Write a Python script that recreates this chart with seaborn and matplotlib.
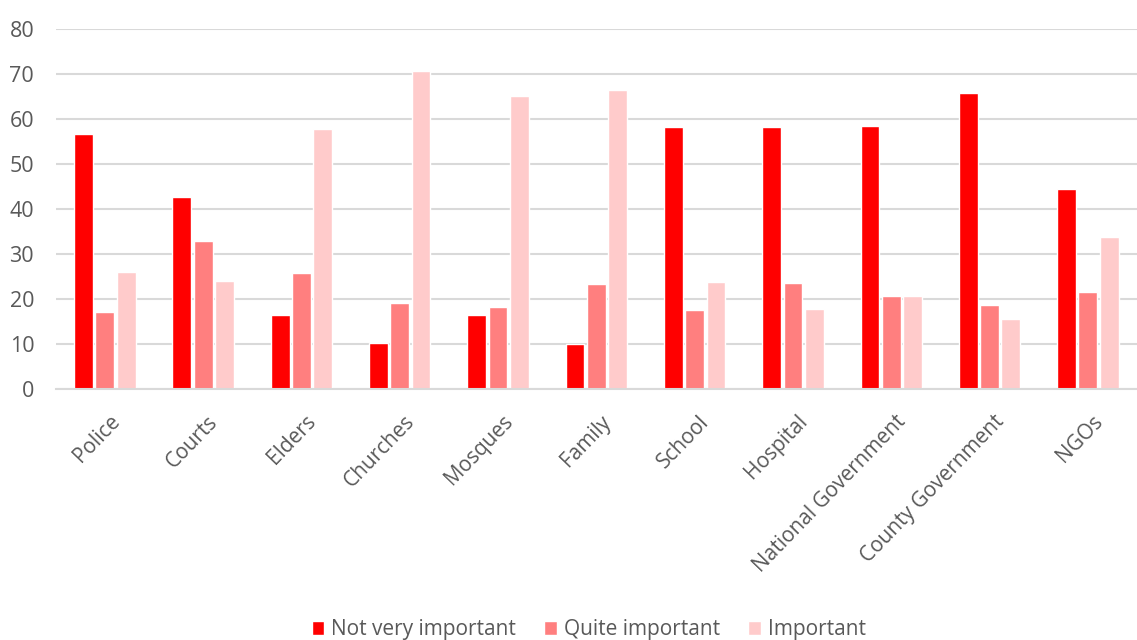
import matplotlib
matplotlib.use("Agg")
import matplotlib.pyplot as plt
import matplotlib.transforms as mtransforms
import seaborn as sns
import pandas as pd

categories = ["Police", "Courts", "Elders", "Churches", "Mosques", "Family", "School",
              "Hospital", "National Government", "County Government", "NGOs"]
not_very_important = [56.7, 42.8, 16.5, 10.2, 16.5, 10.0, 58.3, 58.3, 58.4, 65.7, 44.5]
quite_important = [17.1, 32.9, 25.7, 19.1, 18.2, 23.3, 17.5, 23.6, 20.7, 18.6, 21.5]
important = [26.0, 24.0, 57.8, 70.6, 65.1, 66.5, 23.8, 17.8, 20.7, 15.5, 33.7]
series_names = ["Not very important", "Quite important", "Important"]
colors = ["#FF0000", "#FF7F7F", "#FFCBCB"]

rows = []
for name, vals in zip(series_names, [not_very_important, quite_important, important]):
    for c, v in zip(categories, vals):
        rows.append({"category": c, "series": name, "value": v})
df = pd.DataFrame(rows)

sns.set_style("white")
plt.rcParams["font.family"] = ["Open Sans", "DejaVu Sans"]

fig = plt.figure(figsize=(11.37, 6.4), dpi=100)
ax = fig.add_axes([0.049, 0.392, 0.951, 0.5625])

sns.barplot(data=df, x="category", y="value", hue="series", order=categories,
            hue_order=series_names, palette=colors, width=0.65, gap=0.12,
            saturation=1, ax=ax, legend=True)

ax.set_ylim(0, 80)
ax.set_xlim(-0.5, 10.5)
ax.set_yticks(range(0, 81, 10))
ax.yaxis.grid(True, color="#D9D9D9", linewidth=1.5)
ax.set_axisbelow(True)
for s in ["left", "right", "top"]:
    ax.spines[s].set_visible(False)
ax.spines["bottom"].set_color("#D9D9D9")
ax.spines["bottom"].set_linewidth(1.5)
ax.set_xlabel("")
ax.set_ylabel("")
ax.tick_params(axis="y", length=0, labelsize=15.5, labelcolor="#595959", pad=15.5)
ax.tick_params(axis="x", length=0, labelsize=15, labelcolor="#595959", pad=0)
offset = mtransforms.ScaledTranslation(4 / 100, -22 / 100, fig.dpi_scale_trans)
for lab in ax.get_xticklabels():
    lab.set_rotation(46)
    lab.set_ha("right")
    lab.set_rotation_mode("anchor")
    lab.set_transform(lab.get_transform() + offset)

handles, labels = ax.get_legend_handles_labels()
ax.legend_.remove()
fig.legend(handles, labels, loc="lower center", bbox_to_anchor=(0.518, -0.03), ncol=3,
           frameon=False, fontsize=15, handlelength=0.6, handleheight=0.6,
           handletextpad=0.35, columnspacing=1.35, labelcolor="#595959")

fig.savefig("out.png", dpi=100)
